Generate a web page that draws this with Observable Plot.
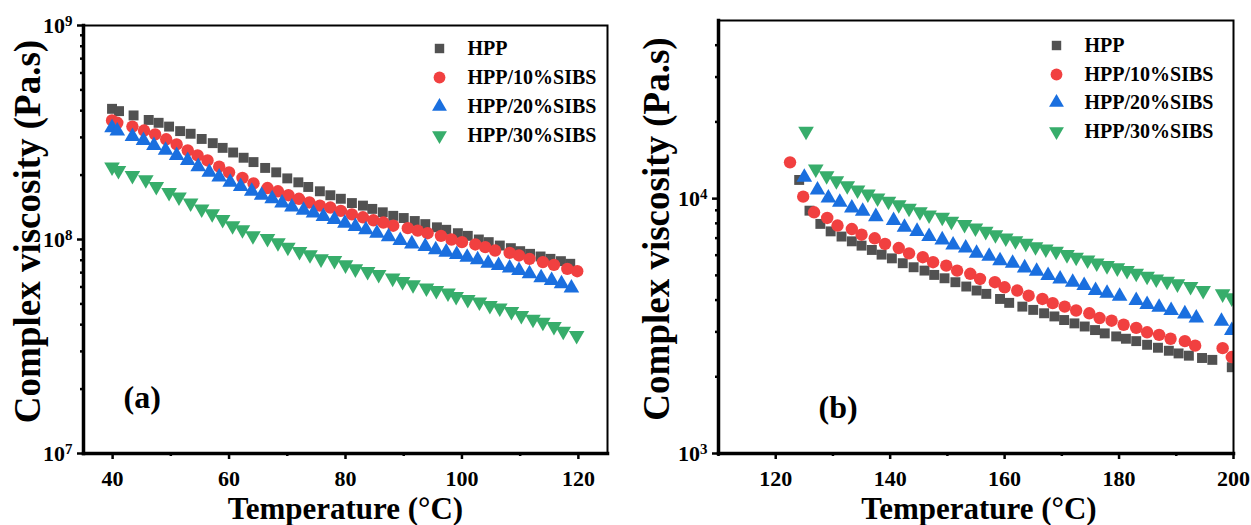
<!DOCTYPE html>
<html><head><meta charset="utf-8">
<script src="https://cdn.jsdelivr.net/npm/d3@7"></script>
<script src="https://cdn.jsdelivr.net/npm/@observablehq/plot@0.6"></script>
<style>
html,body{margin:0;padding:0;background:#fff;}
#wrap{display:flex;width:1251px;height:525px;}
</style></head><body><div id="wrap"></div>
<script>
// ---------- Panel (a): 40–120 °C ----------
const tA_HPP = [39.9,41.1,43.6,46.2,47.9,49.7,51.6,53.4,55.3,57.2,58.9,60.7,62.5,64.2,66.2,68.1,70.0,71.9,73.6,75.6,77.4,79.2,81.1,83.0,84.6,86.4,88.2,90.0,91.9,93.7,95.7,97.3,99.3,101.0,102.9,104.6,106.5,108.4,110.0,111.7,113.5,115.2,117.0,118.6];
const vA_HPP = [4.08e8,3.98e8,3.80e8,3.62e8,3.51e8,3.37e8,3.21e8,3.12e8,2.95e8,2.82e8,2.68e8,2.55e8,2.41e8,2.30e8,2.16e8,2.06e8,1.93e8,1.85e8,1.76e8,1.68e8,1.61e8,1.55e8,1.48e8,1.44e8,1.39e8,1.34e8,1.29e8,1.26e8,1.22e8,1.18e8,1.14e8,1.11e8,1.07e8,1.04e8,1.00e8,9.72e7,9.37e7,9.11e7,8.82e7,8.57e7,8.33e7,8.12e7,7.92e7,7.70e7];
const tA_10 = [39.9,40.8,43.4,45.4,47.3,49.2,51.0,52.9,54.6,56.3,58.3,60.0,62.3,64.2,66.6,68.4,70.2,72.0,73.8,75.6,77.4,79.2,81.1,83.0,84.8,86.5,88.2,90.7,92.4,94.1,96.4,98.2,100.0,102.3,104.0,105.7,108.2,109.8,111.6,113.9,115.8,118.1,119.8];
const vA_10 = [3.60e8,3.51e8,3.37e8,3.23e8,3.10e8,2.94e8,2.78e8,2.61e8,2.47e8,2.34e8,2.19e8,2.06e8,1.94e8,1.83e8,1.74e8,1.68e8,1.61e8,1.55e8,1.49e8,1.44e8,1.41e8,1.36e8,1.31e8,1.27e8,1.23e8,1.20e8,1.16e8,1.13e8,1.10e8,1.07e8,1.04e8,1.00e8,9.72e7,9.48e7,9.21e7,8.88e7,8.66e7,8.42e7,8.12e7,7.84e7,7.61e7,7.29e7,7.11e7];
const tA_20 = [39.9,40.8,43.4,45.3,47.1,49.1,51.0,52.9,54.7,56.6,58.3,60.2,62.0,63.9,65.6,67.4,69.1,70.8,72.8,74.5,76.2,78.1,79.9,81.7,83.5,85.4,87.4,89.4,91.4,93.7,95.5,97.3,99.1,100.9,102.7,104.5,106.3,108.2,109.8,111.6,113.6,115.4,117.1,118.8];
const vA_20 = [3.33e8,3.21e8,3.03e8,2.90e8,2.75e8,2.61e8,2.47e8,2.34e8,2.19e8,2.06e8,1.96e8,1.85e8,1.77e8,1.68e8,1.61e8,1.55e8,1.48e8,1.42e8,1.37e8,1.33e8,1.28e8,1.24e8,1.19e8,1.15e8,1.11e8,1.07e8,1.03e8,9.89e7,9.54e7,9.27e7,8.95e7,8.73e7,8.51e7,8.27e7,8.04e7,7.75e7,7.56e7,7.35e7,7.16e7,6.91e7,6.62e7,6.43e7,6.21e7,5.94e7];
const tA_30 = [39.9,41.0,43.4,45.7,47.5,49.7,51.4,53.4,55.3,57.1,58.9,60.6,62.3,64.1,66.6,68.4,70.1,72.1,73.9,75.8,78.1,80.0,81.7,83.8,85.7,88.1,89.8,91.6,93.9,95.6,97.6,99.0,101.0,103.0,104.8,106.5,108.5,110.2,112.2,113.9,115.8,117.4,119.7];
const vA_30 = [2.18e8,2.10e8,1.99e8,1.90e8,1.77e8,1.66e8,1.58e8,1.48e8,1.39e8,1.32e8,1.24e8,1.16e8,1.11e8,1.04e8,1.01e8,9.65e7,9.21e7,8.79e7,8.48e7,8.12e7,7.98e7,7.61e7,7.29e7,7.09e7,6.86e7,6.60e7,6.36e7,6.14e7,5.94e7,5.78e7,5.63e7,5.42e7,5.24e7,5.10e7,4.92e7,4.78e7,4.61e7,4.41e7,4.24e7,4.11e7,3.92e7,3.73e7,3.56e7];

// ---------- Panel (b): 120–200 °C ----------
const tB_HPP = [124.1,125.9,127.8,129.6,131.5,133.3,135.0,136.8,138.5,140.3,142.2,144.1,146.0,147.7,149.5,151.4,153.3,155.1,156.8,159.2,160.8,163.1,165.0,166.9,168.7,170.4,172.2,174.0,175.8,177.5,179.5,181.2,183.0,184.9,186.8,188.7,190.4,192.2,194.5,196.3,199.7];
const vB_HPP = [11840,8970,7960,7440,7100,6800,6540,6290,6030,5830,5580,5380,5220,5020,4870,4700,4520,4360,4230,4040,3900,3770,3660,3550,3450,3340,3240,3150,3050,2960,2880,2820,2760,2670,2600,2530,2470,2420,2370,2330,2180];
const tB_10 = [122.5,124.8,126.7,129.0,130.8,133.3,135.0,137.3,139.1,141.5,143.3,145.7,147.5,149.8,151.7,154.0,155.7,158.3,160.0,162.2,164.2,166.6,168.4,170.5,172.5,174.8,176.6,178.7,180.8,183.0,184.9,187.0,189.0,191.5,193.3,198.1,199.7];
const vB_10 = [13880,10180,8840,8400,7840,7600,7220,6990,6640,6400,6100,5890,5630,5460,5220,5070,4840,4700,4490,4360,4160,4040,3890,3770,3640,3550,3400,3320,3200,3110,2990,2920,2820,2760,2650,2590,2390];
const tB_20 = [125.0,127.3,129.2,131.2,133.3,135.2,137.5,140.6,142.5,144.7,146.8,149.1,151.0,153.2,155.1,157.3,159.2,161.4,163.5,165.6,167.6,169.7,171.9,173.9,175.9,177.9,180.1,183.0,184.9,187.0,189.1,191.5,193.5,197.9,199.7];
const vB_20 = [12120,10810,10060,9670,9190,8920,8500,8200,7720,7440,7100,6890,6580,6400,6100,5940,5710,5580,5350,5190,4990,4840,4700,4560,4360,4250,4140,3980,3840,3750,3640,3530,3400,3300,3040];
const tB_30 = [125.3,127.0,128.9,130.6,132.5,134.3,136.1,137.8,139.7,141.5,143.3,145.2,146.8,149.1,150.7,153.0,154.9,156.7,158.4,160.2,161.9,163.7,165.4,167.2,169.0,170.9,172.5,174.5,176.1,177.9,179.7,181.4,183.0,184.9,186.5,188.4,190.2,192.5,194.7,198.1,199.7];
const vB_30 = [18400,13070,12310,11760,11240,10810,10430,10060,9760,9470,9160,8890,8630,8450,8150,7910,7670,7440,7220,7010,6840,6680,6480,6350,6220,6030,5890,5750,5590,5460,5350,5220,5100,4960,4840,4740,4630,4520,4360,4230,4080];

// ---------- Labels & axis ticks ----------
const seriesNames = ["HPP","HPP/10%SIBS","HPP/20%SIBS","HPP/30%SIBS"];
const xTitle = "Temperature (°C)";
const yTitle = "Complex viscosity (Pa.s)";
const xMajorA = [40,60,80,100,120], xMinorA = [50,70,90,110];
const xMajorB = [120,140,160,180,200], xMinorB = [110,130,150,170,190];
const yMajorA = [1e7,1e8,1e9];
const yMinorA = [2e7,3e7,4e7,5e7,6e7,7e7,8e7,9e7,2e8,3e8,4e8,5e8,6e8,7e8,8e8,9e8];
const yMajorB = [1e3,1e4];
const yMinorB = [2e3,3e3,4e3,5e3,6e3,7e3,8e3,9e3,2e4,3e4,4e4];

// ---------- Styles ----------
const colors = ["#515151","#F14040","#1A6FDF","#37AD6B"];
const symbols = ["square","circle","triangle","triangle"];
const rotations = [0,0,0,180];
const radii = [5.6,6.2,5.8,5.8];
const FONT = "'Liberation Serif','Times New Roman',serif";

function toRows(t, v) { return t.map((d, i) => ({t: d, v: v[i]})); }

function panel(o) {
  const marks = [];
  o.series.forEach(([t, v], k) => {
    marks.push(Plot.dot(toRows(t, v), {x: "t", y: "v", symbol: symbols[k], fill: colors[k],
      r: radii[k], rotate: rotations[k], clip: true}));
  });
  marks.push(
    Plot.frame({stroke: "#000", strokeWidth: 2}),
    Plot.frame({anchor: "left", stroke: "#000", strokeWidth: 3.5}),
    Plot.frame({anchor: "bottom", stroke: "#000", strokeWidth: 3.5}),
    Plot.axisX(o.xMajor, {tickSize: 6, tickPadding: 11, strokeWidth: 2.5, fontSize: 22, label: null, tickFormat: d => String(d)}),
    Plot.axisX(o.xMinor, {tickSize: 3, strokeWidth: 2.5, label: null, tickFormat: () => ""}),
    Plot.axisY(o.yMajor, {tickSize: 6, tickPadding: 5, strokeWidth: 2.5, fontSize: 22, label: null,
      tickFormat: d => "10^" + Math.round(Math.log10(d))}),
    Plot.axisY(o.yMinor, {tickSize: 3, strokeWidth: 2.5, label: null, tickFormat: () => ""}),
    Plot.text([yTitle], {frameAnchor: "left", textAnchor: "middle", lineAnchor: "middle", rotate: -90,
      dx: o.yTitleDx, dy: o.yTitleDy, fontSize: 37, fontWeight: "bold", fill: "#000"}),
    Plot.text([xTitle], {frameAnchor: "bottom", textAnchor: "middle", lineAnchor: "bottom", dx: o.xTitleDx, dy: 65,
      fontSize: 31, fontWeight: "bold", fill: "#000"}),
    Plot.text([o.tag], {frameAnchor: "top-left", textAnchor: "start", lineAnchor: "middle", dx: o.tagPos[0], dy: o.tagPos[1],
      fontSize: 32, fontWeight: "bold", fill: "#000"})
  );
  seriesNames.forEach((name, k) => {
    marks.push(
      Plot.dot([name], {frameAnchor: "top-left", dx: o.legendX, dy: o.legendY[k], symbol: symbols[k],
        fill: colors[k], r: radii[k] * 0.95, rotate: rotations[k]}),
      Plot.text([name], {frameAnchor: "top-left", dx: o.legendX + 28, dy: o.legendY[k], textAnchor: "start",
        lineAnchor: "middle", fontSize: 20, fontWeight: "bold", fill: "#000"})
    );
  });
  const svg = Plot.plot({
    width: o.width, height: 525,
    marginLeft: o.ml, marginRight: 18, marginTop: o.mt, marginBottom: 72,
    x: {domain: o.xDomain, label: null},
    y: {type: "log", domain: o.yDomain, label: null},
    style: `font-family:${FONT};font-weight:bold;background:#fff;color:#000;overflow:visible;`,
    marks
  });
  d3.select(svg).selectAll('[aria-label="y-axis tick label"] text').each(function() {
    const m = /^10\^(\d+)$/.exec(this.textContent);
    if (!m) return;
    const s = d3.select(this);
    s.text(null);
    s.append("tspan").text("10");
    s.append("tspan").attr("dy", "-0.45em").attr("font-size", "0.68em").text(m[1]);
  });
  return svg;
}

const wrap = document.getElementById("wrap");
wrap.appendChild(panel({
  width: 625, ml: 83, mt: 25, xDomain: [35, 125], yDomain: [1e7, 1e9],
  xMajor: xMajorA, xMinor: xMinorA, yMajor: yMajorA, yMinor: yMinorA,
  series: [[tA_HPP, vA_HPP], [tA_10, vA_10], [tA_20, vA_20], [tA_30, vA_30]],
  yTitleDx: -55, yTitleDy: -8, xTitleDx: 0, tag: "(a)", tagPos: [40, 372],
  legendX: 356, legendY: [23, 52, 81, 110]
}));
wrap.appendChild(panel({
  width: 626, ml: 93, mt: 20, xDomain: [110, 200], yDomain: [1e3, 5e4],
  xMajor: xMajorB, xMinor: xMinorB, yMajor: yMajorB, yMinor: yMinorB,
  series: [[tB_HPP, vB_HPP], [tB_10, vB_10], [tB_20, vB_20], [tB_30, vB_30]],
  yTitleDx: -61, yTitleDy: -8, xTitleDx: 3, tag: "(b)", tagPos: [100, 387],
  legendX: 338, legendY: [25, 54, 82, 111]
}));
</script></body></html>
